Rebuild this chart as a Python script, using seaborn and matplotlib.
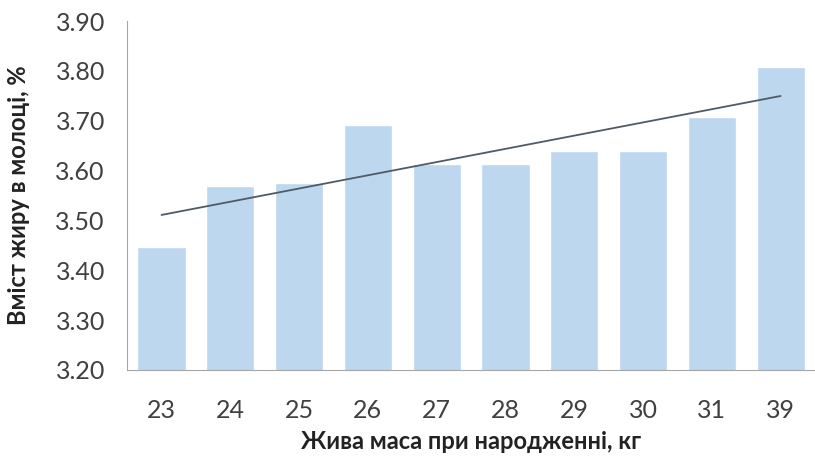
import numpy as np
import pandas as pd
import matplotlib.pyplot as plt
import seaborn as sns

sns.set_style("white")
plt.rcParams["font.family"] = ["Lato", "DejaVu Sans"]

# Дані
masa = ["23", "24", "25", "26", "27", "28", "29", "30", "31", "39"]
zhyr = [3.447, 3.570, 3.575, 3.692, 3.613, 3.613, 3.639, 3.639, 3.708, 3.808]

df = pd.DataFrame({"masa": masa, "zhyr": zhyr})

fig = plt.figure(figsize=(8.15, 4.59), dpi=100)
ax = fig.add_axes([0.156, 0.194, 0.844, 0.760])

sns.barplot(data=df, x="masa", y="zhyr", color="#BDD7EE", width=0.7,
            saturation=1, ax=ax)

# Лінійний тренд
idx = np.arange(len(masa))
k, b = np.polyfit(idx, zhyr, 1)
ax.plot(idx, k * idx + b, color="#4F5B66", linewidth=1.3)

ax.set_ylim(3.20, 3.90)
ax.set_yticks(np.arange(3.20, 3.901, 0.10))
ax.set_yticklabels([f"{v:.2f}" for v in np.arange(3.20, 3.901, 0.10)])
ax.set_xlim(-0.5, len(masa) - 0.5)

# Поділки між категоріями
ax.set_xticks(np.arange(-0.5, len(masa), 1.0), minor=True)
ax.tick_params(axis="x", which="major", length=0, pad=21, labelsize=18, colors="#404040")
ax.tick_params(axis="x", which="minor", length=6, color="#A6A6A6", width=1, direction="out")
ax.tick_params(axis="y", length=6, color="#A6A6A6", width=1, direction="out",
               labelsize=18, pad=10, colors="#404040")

for s in ["top", "right"]:
    ax.spines[s].set_visible(False)
ax.spines["left"].set_color("#A6A6A6")
ax.spines["bottom"].set_color("#A6A6A6")

ax.set_xlabel("Жива маса при народженні, кг", fontsize=17, fontweight="bold",
              color="#222222", labelpad=6)
ax.set_ylabel("Вміст жиру в молоці, %", fontsize=17, fontweight="bold",
              color="#222222", labelpad=18)

plt.savefig("out.png", dpi=100)
